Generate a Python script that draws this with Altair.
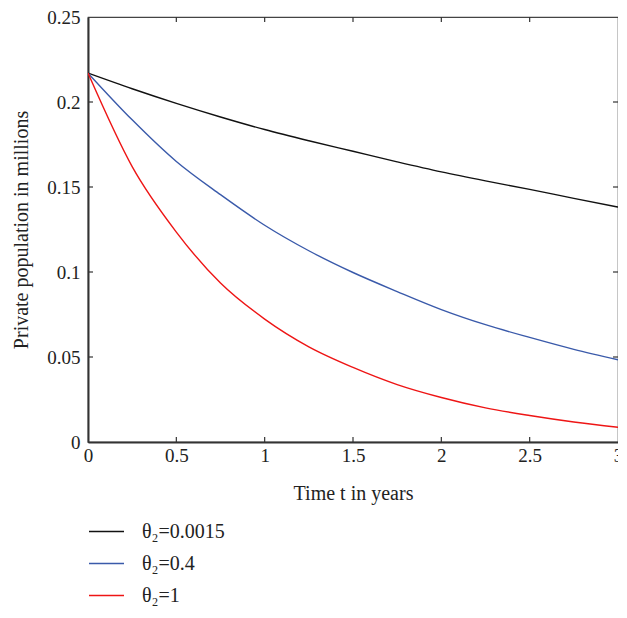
import altair as alt
import pandas as pd

t = [0, 0.25, 0.5, 0.75, 1, 1.25, 1.5, 1.75, 2, 2.25, 2.5, 2.75, 3]
black = [0.217, 0.2078, 0.1992, 0.1912, 0.1838, 0.1772, 0.171, 0.1648, 0.1589, 0.1536, 0.1486, 0.1433, 0.1382]
blue = [0.217, 0.1895, 0.165, 0.1455, 0.1275, 0.1125, 0.0997, 0.0885, 0.0779, 0.069, 0.0615, 0.0545, 0.0484]
red = [0.217, 0.162, 0.1235, 0.0935, 0.0723, 0.056, 0.0439, 0.0338, 0.0262, 0.0201, 0.0156, 0.0118, 0.0087]
labels = ["θ₂=0.0015", "θ₂=0.4", "θ₂=1"]
colors = ["#111111", "#3a5aaa", "#ee1515"]
x_ticks = [0.5, 1, 1.5, 2, 2.5]
y_ticks = [0.05, 0.1, 0.15, 0.2]

W, H = 530, 425
FONT = "Liberation Serif"

rows = []
for name, vals in zip(labels, [black, blue, red]):
    for ti, v in zip(t, vals):
        rows.append({"t": ti, "v": v, "s": name})
df = pd.DataFrame(rows)

xs = alt.Scale(domain=[0, 3], nice=False)
ys = alt.Scale(domain=[0, 0.25], nice=False)

lines = alt.Chart(df).mark_line(strokeWidth=1.4, interpolate="monotone", clip=True).encode(
    x=alt.X("t:Q", scale=xs,
            axis=alt.Axis(title="Time t in years", values=[0, 0.5, 1, 1.5, 2, 2.5, 3], format="~g",
                          grid=False, ticks=False, domainColor="#333333", domainWidth=2,
                          labelPadding=4, titlePadding=18, labelFlush=False)),
    y=alt.Y("v:Q", scale=ys,
            axis=alt.Axis(title="Private population in millions", values=[0, 0.05, 0.1, 0.15, 0.2, 0.25],
                          format="~g", grid=False, ticks=False, domainColor="#333333", domainWidth=2,
                          labelPadding=8, titlePadding=15, labelFlush=False)),
    color=alt.Color("s:N", scale=alt.Scale(domain=labels, range=colors),
                    legend=alt.Legend(title=None, orient="none", legendX=0, legendY=H + 71,
                                      symbolType="stroke", symbolSize=1225, symbolStrokeWidth=1.4,
                                      labelOffset=17, rowPadding=3, direction="vertical")),
)

xt = pd.DataFrame({"x": x_ticks})
yt = pd.DataFrame({"y": y_ticks})
tick_style = dict(color="#333333", strokeWidth=1.2)
xb = alt.Chart(xt).mark_rule(**tick_style).encode(x=alt.X("x:Q", scale=xs), y=alt.value(H), y2=alt.value(H - 5))
xtp = alt.Chart(xt).mark_rule(**tick_style).encode(x=alt.X("x:Q", scale=xs), y=alt.value(0), y2=alt.value(5))
yl = alt.Chart(yt).mark_rule(**tick_style).encode(y=alt.Y("y:Q", scale=ys), x=alt.value(0), x2=alt.value(5))
yr = alt.Chart(yt).mark_rule(**tick_style).encode(y=alt.Y("y:Q", scale=ys), x=alt.value(W - 5), x2=alt.value(W))

chart = alt.layer(lines, xb, xtp, yl, yr).properties(
    width=W, height=H,
    autosize=alt.AutoSizeParams(type="none"),
    padding={"left": 80, "top": 9, "right": 0, "bottom": 166},
).configure_view(stroke="#444444", strokeWidth=1.2).configure_axis(
    labelFont=FONT, titleFont=FONT, labelFontSize=19, titleFontSize=20,
    labelColor="#222222", titleColor="#222222", titleFontWeight="normal",
).configure_legend(labelFont=FONT, labelFontSize=20, labelColor="#222222")

chart.save("out.html", embed_options={"renderer": "svg", "actions": False})
